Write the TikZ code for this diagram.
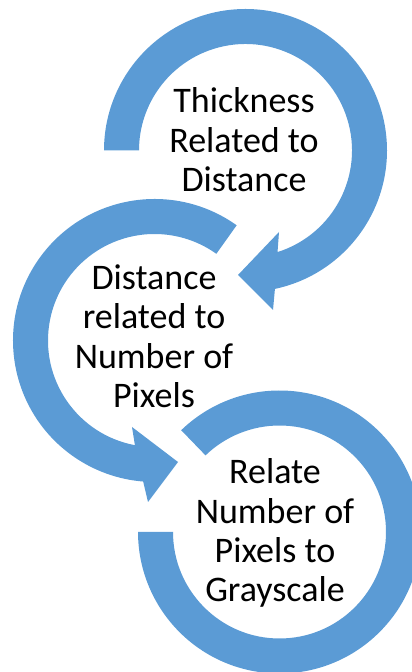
\documentclass[tikz,border=0pt]{standalone}
\usepackage{fontspec}
\setmainfont{Carlito}
\usetikzlibrary{calc}
\definecolor{arcblue}{HTML}{5B9BD5}
\begin{document}
\begin{tikzpicture}[x=1pt,y=1pt,
  band/.style={fill=arcblue,draw=none},
  txt/.style={align=center,font=\fontsize{36}{39.5}\selectfont,inner sep=0pt,anchor=base,text=black}]
\useasboundingbox (0,0) rectangle (412,672);
\clip (0,0) rectangle (412,672);
\coordinate (c1) at (245.5,521.5);
\coordinate (c2) at (154.5,331.5);
\coordinate (c3) at (279.5,140);
% arc 1 (top, clockwise, arrow at bottom)
\fill[band] ($(c1)+(180:141.5)$) arc[start angle=180,end angle=-78,radius=141.5]
  -- (273,362) -- (238,397) -- (279,440)
  -- ($(c1)+(-72.5:106.5)$) arc[start angle=-72.5,end angle=180,radius=106.5] -- cycle;
% arc 2 (middle, counterclockwise, arrow at bottom)
\fill[band] ($(c2)+(54.5:141.5)$) arc[start angle=54.5,end angle=265.4,radius=141.5]
  -- (148,170) -- (178,210) -- (132,245)
  -- ($(c2)+(259.4:106.5)$) arc[start angle=259.4,end angle=54.5,radius=106.5] -- cycle;
% arc 3 (bottom, no arrow)
\fill[band] ($(c3)+(134:141.5)$) arc[start angle=134,end angle=-180,radius=141.5]
  -- ($(c3)+(180:106.5)$) arc[start angle=-180,end angle=134,radius=106.5] -- cycle;
\node[txt] (t1) at (244,480) {Thickness\\Related to\\Distance};
\node[txt] (t2) at (154,264) {Distance\\related to\\Number of\\Pixels};
\node[txt] (t3) at (275,70) {Relate\\Number of\\Pixels to\\Grayscale};
\end{tikzpicture}
\end{document}
